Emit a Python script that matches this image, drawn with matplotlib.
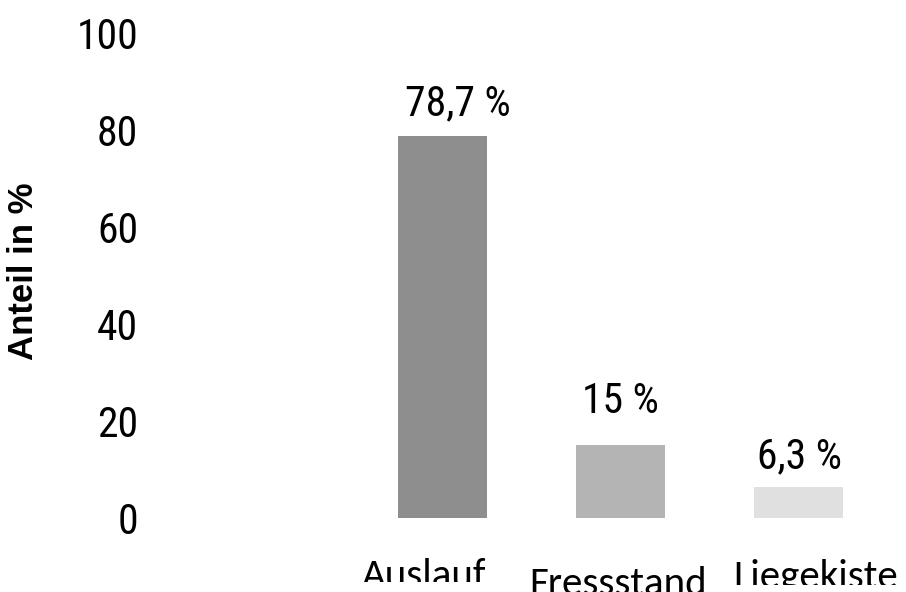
import matplotlib
matplotlib.use("Agg")
import matplotlib.pyplot as plt
from matplotlib.transforms import Bbox

categories = ['Auslauf', 'Fressstand', 'Liegekiste']
values = [78.7, 15.0, 6.3]
value_labels = ['78,7 %', '15 %', '6,3 %']
bar_colors = ['#8e8e8e', '#b4b4b4', '#e0e0e0']
y_ticks = [0, 20, 40, 60, 80, 100]

narrow = ['Roboto Condensed', 'Liberation Sans', 'DejaVu Sans']

W, H = 906, 592
fig = plt.figure(figsize=(W / 100, H / 100), dpi=100)
ax = fig.add_axes([150 / W, (H - 518) / H, 756 / W, 485 / H])

x = list(range(len(categories)))
ax.bar(x, values, width=0.5, color=bar_colors)
ax.set_xlim((150 - 442.5) / 178, (906 - 442.5) / 178)
ax.set_ylim(0, 100)

for s in ax.spines.values():
    s.set_visible(False)
ax.set_xticks([])
ax.set_yticks(y_ticks)
ax.set_yticklabels([str(t) for t in y_ticks], family=narrow, fontsize=30)
ax.tick_params(axis='y', length=0, pad=8.6)

ax.set_ylabel('Anteil in %', family=['Liberation Sans', 'DejaVu Sans'],
              fontweight='bold', fontsize=25)
ax.yaxis.set_label_coords((40 - 150) / 756, 0.509)

# value labels above the bars (pixel offsets)
gaps = [21, 32, 19]
shifts = [15, 0, 1]
for xi, v, lab, g, sx in zip(x, values, value_labels, gaps, shifts):
    ax.annotate(lab, (xi, v), xytext=(sx * 0.72, g * 0.72), textcoords='offset points',
                ha='center', va='baseline', family=narrow, fontsize=30)

# category labels, clipped at the bottom as in the source
cat_x = [424, 618, 816]
cat_base = [587, 595, 588]
cat_clip = [582, 592, 585]
for lab, cx, cb, cc in zip(categories, cat_x, cat_base, cat_clip):
    t = fig.text(cx / W, (H - cb) / H, lab, ha='center', va='baseline',
                 family=['Carlito', 'DejaVu Sans'], fontsize=29.5)
    t.set_clip_box(Bbox([[0, H - cc], [W, H]]))
    t.set_clip_on(True)

fig.savefig('out.png', dpi=100)
